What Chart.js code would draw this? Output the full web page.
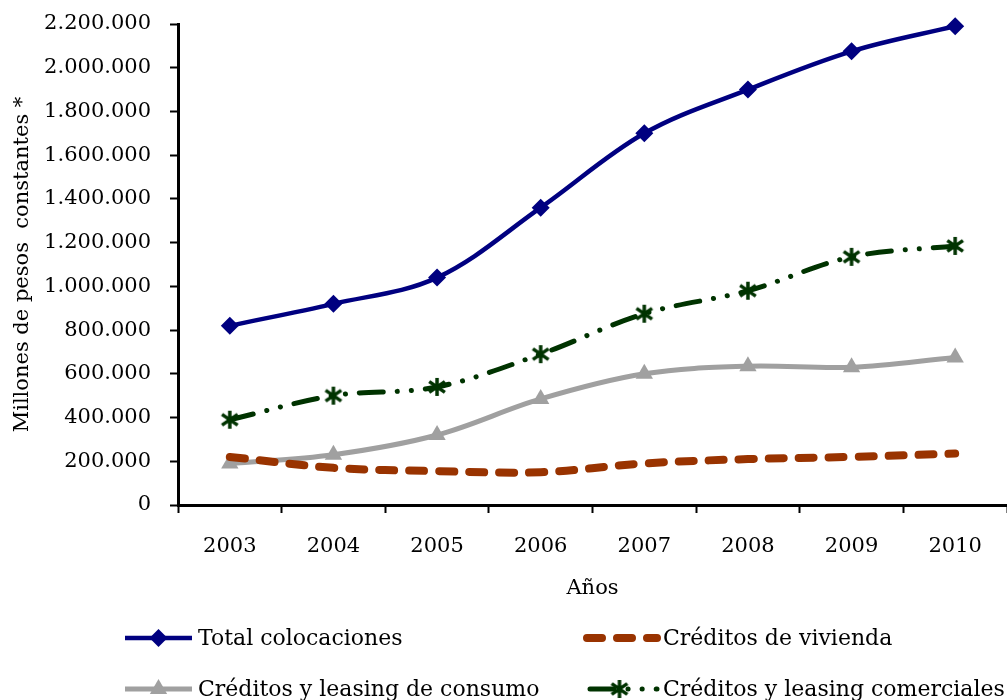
<!DOCTYPE html>
<html>
<head>
<meta charset="utf-8">
<script src="https://cdn.jsdelivr.net/npm/chart.js@4/dist/chart.umd.min.js"></script>
<style>
  html, body { margin: 0; background: #fff; }
  canvas { display: block; }
</style>
</head>
<body>
<canvas id="chart" width="1007" height="700"></canvas>
<script>
// ---- data ----
const years = ["2003", "2004", "2005", "2006", "2007", "2008", "2009", "2010"];
const totalColocaciones   = [820000, 920000, 1040000, 1360000, 1700000, 1900000, 2075000, 2190000];
const creditosVivienda    = [220000, 170000, 155000, 150000, 190000, 210000, 220000, 235000];
const creditosConsumo     = [190000, 230000, 320000, 485000, 600000, 635000, 630000, 675000];
const creditosComerciales = [390000, 500000, 540000, 690000, 875000, 980000, 1135000, 1185000];
const yTicks = [0, 200000, 400000, 600000, 800000, 1000000, 1200000, 1400000, 1600000, 1800000, 2000000, 2200000];

const FONT = "'DejaVu Serif', 'Liberation Serif', serif";
const NAVY = "#000080", BROWN = "#993300", GREY = "#a0a0a0", GREEN = "#003300";

function fmt(v) {
  return String(v).replace(/\B(?=(\d{3})+(?!\d))/g, ".");
}

// excel-like star marker: X plus vertical bar
function makeStar(size, color) {
  const c = document.createElement("canvas");
  c.width = size; c.height = size;
  const g = c.getContext("2d");
  const m = size / 2, r = size / 2 - 2;
  g.strokeStyle = color;
  g.lineWidth = 3.5;
  g.lineCap = "butt";
  g.beginPath();
  g.moveTo(m, m - r); g.lineTo(m, m + r);
  g.moveTo(m - r * 0.87, m - r * 0.6); g.lineTo(m + r * 0.87, m + r * 0.6);
  g.moveTo(m - r * 0.87, m + r * 0.6); g.lineTo(m + r * 0.87, m - r * 0.6);
  g.stroke();
  return c;
}
const starImg = makeStar(22, GREEN);

/* ===============================
   LEGEND (two columns, bottom)
================================ */
const legendItems = [
  { ds: 0, x: 125, y: 638, w: 67 },
  { ds: 1, x: 587, y: 638, w: 70 },
  { ds: 2, x: 125, y: 689, w: 67 },
  { ds: 3, x: 590, y: 689, w: 67 }
];

function drawMarker(ctx, ds, x, y) {
  const r = ds.pointRadius;
  ctx.save();
  ctx.fillStyle = ds.pointBackgroundColor;
  if (ds.pointStyle === "rectRot") {
    ctx.beginPath();
    ctx.moveTo(x, y - r); ctx.lineTo(x + r, y); ctx.lineTo(x, y + r); ctx.lineTo(x - r, y);
    ctx.closePath(); ctx.fill();
  } else if (ds.pointStyle === "triangle") {
    ctx.beginPath();
    ctx.moveTo(x, y - r); ctx.lineTo(x + r * 0.866, y + r * 0.5); ctx.lineTo(x - r * 0.866, y + r * 0.5);
    ctx.closePath(); ctx.fill();
  } else if (ds.pointStyle instanceof HTMLCanvasElement) {
    ctx.drawImage(ds.pointStyle, x - 4 - ds.pointStyle.width / 2, y - ds.pointStyle.height / 2);
  }
  ctx.restore();
}

const legendPlugin = {
  id: "bottomLegend",
  afterDraw(chart) {
    const ctx = chart.ctx;
    legendItems.forEach(it => {
      const ds = chart.data.datasets[it.ds];
      ctx.save();
      ctx.strokeStyle = ds.borderColor;
      ctx.lineWidth = ds.borderWidth;
      ctx.lineCap = ds.borderCapStyle || "butt";
      ctx.setLineDash(ds.borderDash || []);
      ctx.beginPath();
      ctx.moveTo(it.x, it.y);
      ctx.lineTo(it.x + it.w, it.y);
      ctx.stroke();
      ctx.restore();
      if (ds.pointRadius > 0) drawMarker(ctx, ds, it.x + it.w / 2, it.y);
      ctx.save();
      ctx.fillStyle = "#000";
      ctx.font = "22px " + FONT;
      ctx.textBaseline = "middle";
      ctx.fillText(ds.label, it.x + it.w + 6, it.y + 1);
      ctx.restore();
    });
  }
};

/* ===============================
   CHART
================================ */
new Chart(document.getElementById("chart"), {
  type: "line",
  data: {
    labels: years,
    datasets: [
      {
        label: "Total colocaciones",
        data: totalColocaciones,
        borderColor: NAVY, borderWidth: 4.5,
        pointStyle: "rectRot", pointRadius: 9,
        pointBackgroundColor: NAVY, pointBorderColor: NAVY, pointBorderWidth: 0,
        tension: 0.35
      },
      {
        label: "Créditos de vivienda",
        data: creditosVivienda,
        borderColor: BROWN, borderWidth: 8,
        borderDash: [15, 15], borderCapStyle: "round",
        pointRadius: 0,
        tension: 0.35
      },
      {
        label: "Créditos y leasing de consumo",
        data: creditosConsumo,
        borderColor: GREY, borderWidth: 5,
        pointStyle: "triangle", pointRadius: 10,
        pointBackgroundColor: GREY, pointBorderColor: GREY, pointBorderWidth: 0,
        tension: 0.35
      },
      {
        label: "Créditos y leasing comerciales",
        data: creditosComerciales,
        borderColor: GREEN, borderWidth: 5,
        borderDash: [24, 14, 0.1, 14, 0.1, 14], borderCapStyle: "round",
        pointStyle: starImg, pointRadius: 9,
        pointBackgroundColor: GREEN,
        tension: 0.35
      }
    ]
  },
  options: {
    responsive: false,
    animation: false,
    clip: false,
    layout: { autoPadding: false, padding: { top: 24, right: 0, bottom: 95, left: 0 } },
    plugins: { legend: { display: false }, tooltip: { enabled: false } },
    scales: {
      x: {
        offset: true,
        afterFit: s => { s.height = 100; s.paddingLeft = 0; s.paddingRight = 0; },
        grid: { display: true, offset: true, drawOnChartArea: false, drawTicks: true,
                tickLength: 8, tickWidth: 2, color: "#000" },
        border: { display: true, color: "#000", width: 3 },
        ticks: { color: "#000", padding: 21, font: { family: FONT, size: 21 } },
        title: { display: true, text: "Años", color: "#000",
                 padding: { top: 0, bottom: 4 }, font: { family: FONT, size: 21 } }
      },
      y: {
        min: 0, max: 2200000,
        afterFit: s => { s.width = 178; s.paddingTop = 0; s.paddingBottom = 0; },
        afterBuildTicks: s => { s.ticks = yTicks.map(v => ({ value: v })); },
        grid: { display: true, drawOnChartArea: false, drawTicks: true,
                tickLength: 8, tickWidth: 2, color: "#000" },
        border: { display: true, color: "#000", width: 3 },
        ticks: { color: "#000", padding: 19, font: { family: FONT, size: 21 },
                 callback: v => fmt(v) },
        title: { display: true, text: "Millones de pesos  constantes *", color: "#000",
                 padding: { top: 10, bottom: 0 }, font: { family: FONT, size: 21 } }
      }
    }
  },
  plugins: [legendPlugin]
});
</script>
</body>
</html>
